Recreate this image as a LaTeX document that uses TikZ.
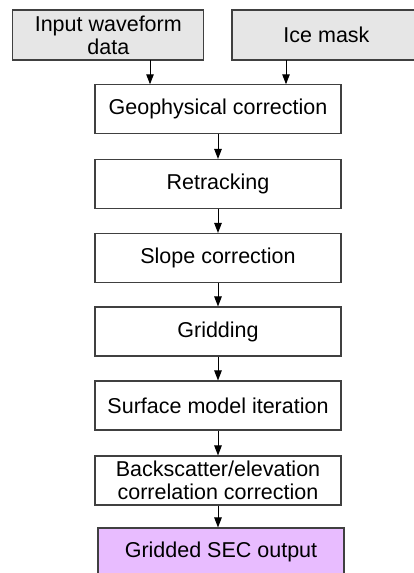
\documentclass[tikz,border=0pt]{standalone}
\usepackage{fontspec}
\setmainfont{Liberation Sans}
\usetikzlibrary{arrows.meta}
\definecolor{boxline}{HTML}{404040}
\definecolor{inputfill}{HTML}{E6E6E6}
\definecolor{outfill}{HTML}{E8BCFF}
\tikzset{
  procbox/.style={draw=boxline, line width=1.1pt, fill=white, minimum width=246pt, minimum height=49pt, inner sep=0pt, align=center, font=\fontsize{21.5}{23}\selectfont},
  inbox/.style={procbox, fill=inputfill, minimum height=50pt},
  outbox/.style={procbox, fill=outfill},
  flow/.style={draw=black, line width=1pt, -{Triangle[length=10pt,width=7.5pt]}}
}
\begin{document}
\begin{tikzpicture}[x=1pt,y=-1pt]
\useasboundingbox (0,0) rectangle (413,573);
\fill[white] (0,0) rectangle (413,573);
\node[inbox, minimum width=191pt] (inp) at (108.3,35) {Input waveform\\data};
\node[inbox, minimum width=189pt] (ice) at (326.5,35) {Ice mask};
\node[procbox] (geo) at (218,109.3) {Geophysical correction};
\node[procbox] (ret) at (218,184) {Retracking};
\node[procbox] (slo) at (218,258) {Slope correction};
\node[procbox] (grd) at (218,331.5) {Gridding};
\node[procbox] (sur) at (218,405.5) {Surface model iteration};
\node[procbox] (bac) at (218,480.5) {Backscatter/elevation\\correlation correction};
\node[outbox, minimum height=48pt] (out) at (221,552) {Gridded SEC output};
\coordinate (a1) at (150,60);
\coordinate (a2) at (286,60);
\draw[flow] (a1) -- (a1 |- geo.north);
\draw[flow] (a2) -- (a2 |- geo.north);
\draw[flow] (geo) -- (ret);
\draw[flow] (ret) -- (slo);
\draw[flow] (slo) -- (grd);
\draw[flow] (grd) -- (sur);
\draw[flow] (sur) -- (bac);
\draw[flow] (bac.south) -- (bac.south |- out.north);
\end{tikzpicture}
\end{document}
